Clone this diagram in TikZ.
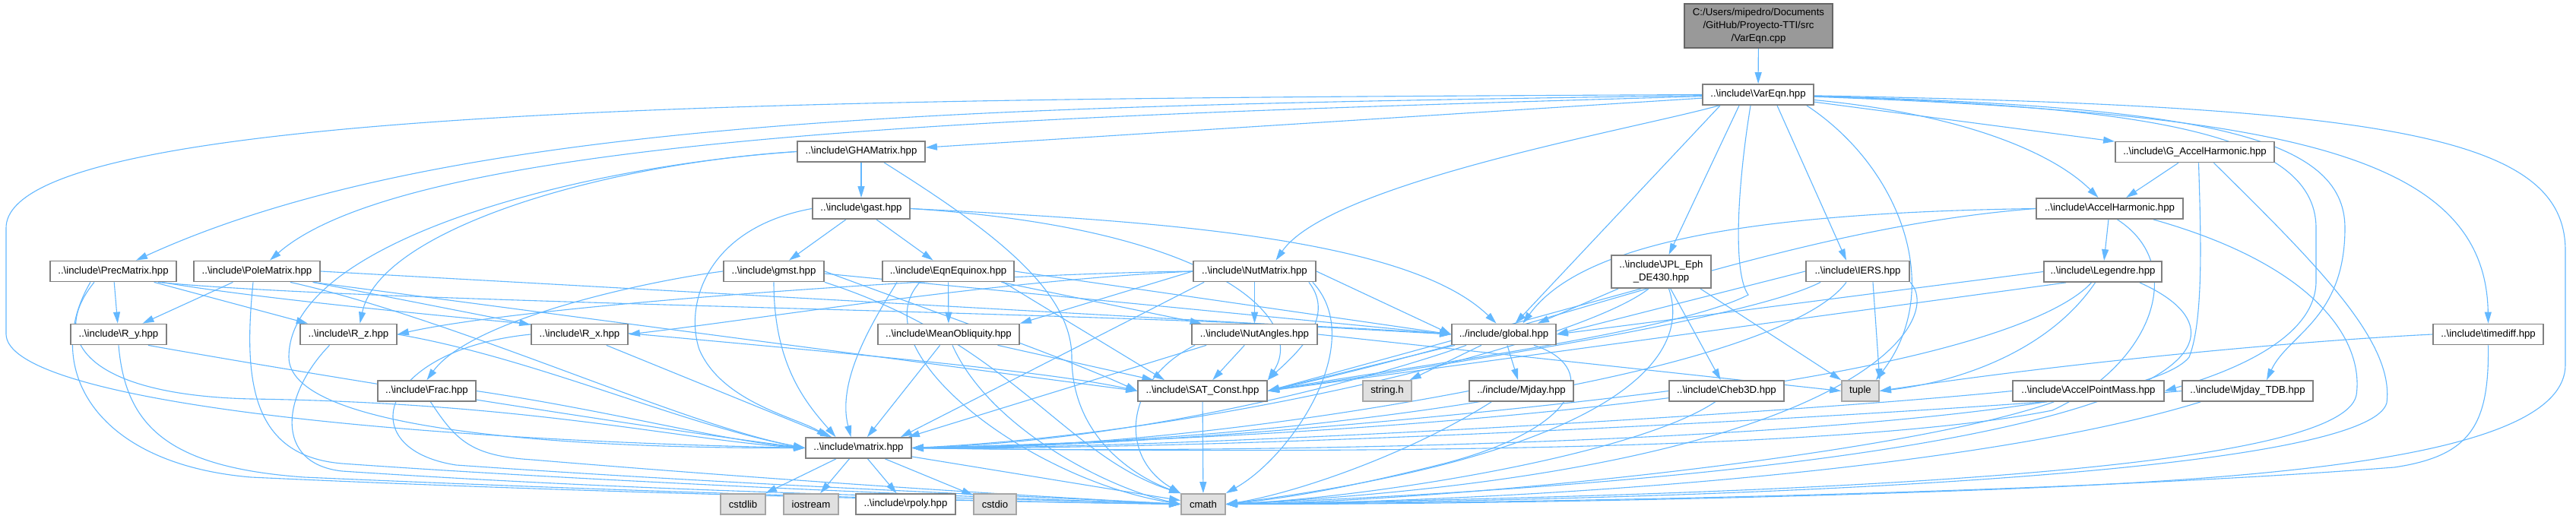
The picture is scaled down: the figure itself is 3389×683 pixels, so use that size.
\documentclass[tikz,border=0pt]{standalone}
\usepackage{fontspec}
\setmainfont{Liberation Sans}
\usetikzlibrary{arrows.meta,calc}
\definecolor{edgeblue}{HTML}{63B8FF}
\definecolor{boxline}{HTML}{808080}
\definecolor{sysfill}{HTML}{E0E0E0}
\definecolor{sysline}{HTML}{A6A6A6}
\definecolor{srcfill}{HTML}{999999}
\definecolor{srcline}{HTML}{666666}
\newcommand\bsl{\textbackslash}
\pgfdeclarelayer{bg}
\pgfsetlayers{bg,main}
\begin{document}
\begin{tikzpicture}[x=0.5pt,y=-0.5pt,
  hdr/.style={draw=boxline,line width=0.9pt,fill=white,inner sep=0pt,minimum height=13.5pt,
    font=\fontsize{6.6pt}{8.35pt}\selectfont,align=center},
  sys/.style={hdr,draw=sysline,fill=sysfill},
  src/.style={hdr,draw=srcline,fill=srcfill},
  e/.style={draw=edgeblue,line width=0.55pt,-{Triangle[length=7.5pt,width=4.5pt]}}]
\useasboundingbox (0,0) rectangle (3389,683);
% nodes
\node[src,minimum width=97.5pt,minimum height=29pt] (cpp) at (2313.5,34) {C:/Users/mipedro/Documents\\/GitHub/Proyecto-TTI/src\\/VarEqn.cpp};
\node[hdr,minimum width=73pt] (V) at (2313,124.5) {..\bsl include\bsl VarEqn.hpp};
\node[hdr,minimum width=84pt] (GHA) at (1133,199.5) {..\bsl include\bsl GHAMatrix.hpp};
\node[hdr,minimum width=104.5pt] (GAH) at (2887.5,200) {..\bsl include\bsl G\_AccelHarmonic.hpp};
\node[hdr,minimum width=64pt] (gast) at (1133,274.5) {..\bsl include\bsl gast.hpp};
\node[hdr,minimum width=96.5pt] (AH) at (2775.5,274.5) {..\bsl include\bsl AccelHarmonic.hpp};
\node[hdr,minimum width=83pt] (Prec) at (149,357) {..\bsl include\bsl PrecMatrix.hpp};
\node[hdr,minimum width=83pt] (Pole) at (338,357) {..\bsl include\bsl PoleMatrix.hpp};
\node[hdr,minimum width=66pt] (gmst) at (1018,357) {..\bsl include\bsl gmst.hpp};
\node[hdr,minimum width=86.5pt] (EqE) at (1247.5,357) {..\bsl include\bsl EqnEquinox.hpp};
\node[hdr,minimum width=80.5pt] (Nut) at (1650.5,357) {..\bsl include\bsl NutMatrix.hpp};
\node[hdr,minimum width=65.5pt,minimum height=21.5pt] (JPL) at (2185.5,357.5) {..\bsl include\bsl JPL\_Eph\\\_DE430.hpp};
\node[hdr,minimum width=68pt] (IERS) at (2444,357) {..\bsl include\bsl IERS.hpp};
\node[hdr,minimum width=77.5pt] (Leg) at (2766.5,357.5) {..\bsl include\bsl Legendre.hpp};
\node[hdr,minimum width=63pt] (Ry) at (156,440) {..\bsl include\bsl R\_y.hpp};
\node[hdr,minimum width=63.5pt] (Rz) at (458.5,440) {..\bsl include\bsl R\_z.hpp};
\node[hdr,minimum width=63.5pt] (Rx) at (762.5,440) {..\bsl include\bsl R\_x.hpp};
\node[hdr,minimum width=93pt] (MO) at (1248,440) {..\bsl include\bsl MeanObliquity.hpp};
\node[hdr,minimum width=82.5pt] (NA) at (1650.5,440) {..\bsl include\bsl NutAngles.hpp};
\node[hdr,minimum width=68.5pt] (glob) at (1978.5,440) {../include/global.hpp};
\node[hdr,minimum width=72.5pt] (tdiff) at (3273.5,440) {..\bsl include\bsl timediff.hpp};
\node[hdr,minimum width=64.5pt] (Frac) at (561.5,514.5) {..\bsl include\bsl Frac.hpp};
\node[hdr,minimum width=85pt] (SAT) at (1582,514.5) {..\bsl include\bsl SAT\_Const.hpp};
\node[sys,minimum width=32pt] (strh) at (1825,514.5) {string.h};
\node[hdr,minimum width=68.5pt] (Mjd) at (2001.5,514.5) {../include/Mjday.hpp};
\node[hdr,minimum width=75.5pt] (Cheb) at (2271.5,514.5) {..\bsl include\bsl Cheb3D.hpp};
\node[sys,minimum width=24.5pt] (tup) at (2447.5,514.5) {tuple};
\node[hdr,minimum width=99.5pt] (APM) at (2747.5,514.5) {..\bsl include\bsl AccelPointMass.hpp};
\node[hdr,minimum width=86pt] (MTDB) at (2957,514.5) {..\bsl include\bsl Mjday\_TDB.hpp};
\node[hdr,minimum width=69.5pt] (mat) at (1129.5,589.5) {..\bsl include\bsl matrix.hpp};
\node[sys,minimum width=29.5pt] (cstdlib) at (977.5,663.5) {cstdlib};
\node[sys,minimum width=36pt] (iostr) at (1067,663.5) {iostream};
\node[hdr,minimum width=65.5pt] (rpoly) at (1191.5,663.5) {..\bsl include\bsl rpoly.hpp};
\node[sys,minimum width=28pt] (cstdio) at (1309,663.5) {cstdio};
\node[sys,minimum width=29pt] (cmath) at (1583,663.5) {cmath};
% edges
\begin{pgfonlayer}{bg}
\fill[white] (0,0) rectangle (3389,683);
\draw[e] (cpp) -- (V);
% VarEqn.hpp
\draw[e] (V.west) .. controls (1200,130) and (8,130) .. (8,300) -- (8,440) .. controls (10,525) and (500,578) .. (mat.west);
\draw[e] (V) .. controls (1300,140) and (600,150) .. ($(Prec.north)+(30,0)$);
\draw[e] (V) .. controls (1400,152) and (550,172) .. ($(Pole.north)+(17,0)$);
\draw[e] (V) -- (GHA);
\draw[e] (V) .. controls (2150,170) and (1750,240) .. ($(Nut.north)+(28,0)$);
\draw[e] ($(V.south)+(-50,0)$) -- ($(glob.north)+(15,0)$);
\draw[e] ($(V.south)+(-25,0)$) -- ($(JPL.north)+(10,0)$);
\draw[e] ($(V.south)+(-10,0)$) .. controls (2285,250) and (2280,360) .. (2300,388) .. controls (2200,440) and (1800,490) .. (SAT.east);
\draw[e] ($(V.south)+(25,0)$) -- ($(IERS.north)+(-15,0)$);
\draw[e] ($(V.south east)+(-10,0)$) .. controls (2500,220) and (2560,380) .. ($(tup.north east)+(-5,0)$);
\draw[e] (V) -- (GAH);
\draw[e] (V) .. controls (2580,150) and (2700,200) .. ($(AH.north)+(-15,0)$);
\draw[e] (V) .. controls (2800,140) and (3047,170) .. (3047,300) -- (3047,370) .. controls (3047,440) and (2950,485) .. (APM.east);
\draw[e] (V) .. controls (2900,140) and (3085,180) .. (3085,300) .. controls (3085,420) and (3010,440) .. ($(MTDB.north)+(25,0)$);
\draw[e] (V) .. controls (3000,150) and (3270,200) .. (tdiff.north);
\draw[e] (V) .. controls (3150,140) and (3375,180) .. (3375,330) -- (3375,480) .. controls (3375,600) and (3000,630) .. (2600,645) .. controls (2200,660) and (1800,664) .. (cmath.east);
% GHAMatrix
\draw[e] (GHA) -- (gast);
\draw[e] (GHA.west) .. controls (800,215) and (500,300) .. ($(Rz.north)+(15,0)$);
\draw[e] (GHA.west) .. controls (750,220) and (380,320) .. (380,470) .. controls (380,560) and (700,590) .. (mat.west);
\draw[e] ($(GHA.south)+(30,0)$) .. controls (1300,300) and (1410,380) .. (1410,470) .. controls (1410,580) and (1500,630) .. (cmath.north west);
% gast
\draw[e] (gast) -- (gmst);
\draw[e] (gast) -- (EqE);
\draw[e] (gast.east) .. controls (1500,290) and (1850,310) .. ($(glob.north)+(-10,0)$);
\draw[e] (gast.east) .. controls (1600,300) and (1720,420) .. (SAT.north east);
\draw[e] (gast.west) .. controls (930,300) and (900,400) .. (920,460) .. controls (950,530) and (1050,550) .. ($(mat.north)+(-40,0)$);
% PrecMatrix
\draw[e] (Prec) -- (Ry);
\draw[e] (Prec) -- (Rz);
\draw[e] ($(Prec.south east)+(-20,0)$) .. controls (500,420) and (1300,470) .. (SAT.west);
\draw[e] ($(Prec.south east)+(-25,0)$) .. controls (500,400) and (1500,410) .. (glob.west);
\draw[e] ($(Prec.south)+(-25,0)$) .. controls (60,450) and (120,520) .. (330,525) .. controls (700,530) and (900,580) .. (mat.west);
\draw[e] ($(Prec.south)+(-30,0)$) .. controls (55,480) and (120,610) .. (330,628) .. controls (800,650) and (1300,660) .. (cmath.west);
% PoleMatrix
\draw[e] (Pole) -- (Ry);
\draw[e] (Pole) -- (Rx);
\draw[e] (Pole.east) -- (glob.west);
\draw[e] ($(Pole.south east)+(-10,0)$) -- (SAT.west);
\draw[e] ($(Pole.south east)+(-40,0)$) .. controls (600,420) and (900,560) .. (mat.west);
\draw[e] ($(Pole.south)+(-5,0)$) .. controls (320,500) and (330,600) .. (450,610) .. controls (800,635) and (1300,655) .. (cmath.west);
% R_y, R_z, R_x
\draw[e] ($(Ry.south east)+(-25,0)$) .. controls (450,500) and (900,570) .. (mat.west);
\draw[e] (Ry.south) .. controls (165,560) and (220,615) .. (400,628) .. controls (900,650) and (1300,660) .. (cmath.west);
\draw[e] (Rz.east) .. controls (700,470) and (900,560) .. (mat.west);
\draw[e] ($(Rz.south)+(-25,0)$) .. controls (370,520) and (360,610) .. (450,620) .. controls (900,650) and (1300,655) .. (cmath.west);
\draw[e] (Rx) -- (mat);
\draw[e] (Rx.west) .. controls (500,460) and (460,590) .. (600,612) .. controls (1000,640) and (1400,655) .. (cmath.west);
% gmst
\draw[e] (gmst.west) .. controls (850,370) and (620,420) .. (Frac.north);
\draw[e] (gmst.south) .. controls (1018,480) and (1060,530) .. ($(mat.north)+(-30,0)$);
\draw[e] (gmst.east) .. controls (1200,400) and (1400,470) .. (SAT.west);
\draw[e] ($(gmst.east)+(0,3)$) -- (glob.west);
\draw[e] (gmst.south east) .. controls (1330,450) and (1400,600) .. (cmath.north west);
% EqnEquinox
\draw[e] (EqE) -- (MO);
\draw[e] (EqE) -- (NA);
\draw[e] (EqE.east) -- (glob.west);
\draw[e] ($(EqE.south east)+(-15,0)$) -- ($(SAT.north)+(-50,0)$);
\draw[e] ($(EqE.south west)+(20,0)$) .. controls (1150,420) and (1100,500) .. ($(mat.north)+(-10,0)$);
\draw[e] ($(EqE.south west)+(50,0)$) .. controls (1130,460) and (1350,630) .. (cmath.west);
% MeanObliquity
\draw[e] (MO) -- (mat);
\draw[e] (MO) -- (SAT);
\draw[e] ($(MO.south)+(5,0)$) .. controls (1300,560) and (1450,640) .. (cmath.west);
% NutMatrix
\draw[e] (Nut) -- (NA);
\draw[e] (Nut.west) -- (MO.north east);
\draw[e] (Nut.west) .. controls (1300,370) and (1000,420) .. (Rx.east);
\draw[e] (Nut.west) .. controls (1300,360) and (700,400) .. (Rz.east);
\draw[e] ($(Nut.south west)+(15,0)$) -- ($(mat.north east)+(-15,0)$);
\draw[e] ($(Nut.south east)+(-10,0)$) .. controls (1760,420) and (1700,470) .. (SAT.north east);
\draw[e] (Nut.east) -- (glob.west);
\draw[e] ($(Nut.south east)+(-5,0)$) .. controls (1800,450) and (1700,600) .. (cmath.north east);
% NutAngles
\draw[e] (NA) -- (SAT);
\draw[e] ($(NA.south west)+(20,0)$) -- ($(mat.north east)+(-5,0)$);
\draw[e] ($(NA.south west)+(5,0)$) .. controls (1480,500) and (1470,600) .. (cmath.north west);
\draw[e] (NA.east) -- (tup.west);
% JPL
\draw[e] (JPL) -- (Cheb);
\draw[e] ($(JPL.south west)+(10,0)$) -- ($(glob.north east)+(-25,0)$);
\draw[e] ($(JPL.south west)+(40,0)$) -- (SAT.east);
\draw[e] ($(JPL.south west)+(50,0)$) .. controls (2080,450) and (1600,570) .. (mat.east);
\draw[e] ($(JPL.south)+(10,0)$) .. controls (2230,480) and (2100,600) .. (cmath.east);
\draw[e] ($(JPL.south east)+(-15,0)$) -- (tup.north west);
% IERS
\draw[e] (IERS.west) -- (glob.east);
\draw[e] ($(IERS.south west)+(20,0)$) .. controls (2300,420) and (1900,480) .. (SAT.east);
\draw[e] ($(IERS.south)+(-15,0)$) .. controls (2350,480) and (1800,580) .. (mat.east);
\draw[e] ($(IERS.south)+(20,0)$) -- (tup.north east);
\draw[e] (IERS.south east) .. controls (2560,420) and (2450,620) .. (cmath.east);
% Legendre
\draw[e] (Leg.west) -- (glob.east);
\draw[e] ($(Leg.south west)+(30,0)$) -- (SAT.east);
\draw[e] ($(Leg.south)+(-15,0)$) .. controls (2680,450) and (2300,560) .. (mat.east);
\draw[e] ($(Leg.south)+(-10,0)$) .. controls (2690,470) and (2560,505) .. (tup.east);
\draw[e] ($(Leg.south east)+(-30,0)$) .. controls (2990,450) and (2900,610) .. (cmath.east);
% AccelHarmonic
\draw[e] (AH) -- (Leg);
\draw[e] (AH.west) .. controls (2300,280) and (2080,320) .. ($(glob.north)+(25,0)$);
\draw[e] (AH.west) .. controls (2350,300) and (2050,430) .. (SAT.east);
\draw[e] ($(AH.south)+(10,0)$) .. controls (2880,350) and (2830,480) .. (2700,540) .. controls (2400,600) and (1600,595) .. (mat.east);
\draw[e] ($(AH.south east)+(-40,0)$) .. controls (3050,350) and (3110,450) .. (3100,520) .. controls (3080,620) and (2400,650) .. (cmath.east);
% G_AccelHarmonic
\draw[e] (GAH) -- (AH);
\draw[e] ($(GAH.south)+(5,0)$) .. controls (2895,300) and (2900,420) .. (2880,470) .. controls (2800,570) and (1800,600) .. (mat.east);
\draw[e] ($(GAH.south)+(25,0)$) .. controls (3050,350) and (3150,450) .. (3140,530) .. controls (3120,610) and (2500,655) .. (cmath.east);
% global
\draw[e] (glob) -- (strh);
\draw[e] (glob) -- (Mjd);
\draw[e] ($(glob.south west)+(5,0)$) -- (SAT.east);
\draw[e] ($(glob.south west)+(20,0)$) .. controls (1800,500) and (1500,580) .. (mat.east);
\draw[e] ($(glob.south east)+(-30,0)$) .. controls (2100,480) and (2090,560) .. (1900,610) .. controls (1780,640) and (1700,655) .. (cmath.east);
% leaves
\draw[e] (Mjd.west) .. controls (1800,540) and (1500,590) .. (mat.east);
\draw[e] ($(Mjd.south west)+(30,0)$) .. controls (1850,600) and (1700,650) .. (cmath.east);
\draw[e] (Cheb.west) .. controls (2000,540) and (1500,590) .. (mat.east);
\draw[e] ($(Cheb.south)+(-15,0)$) .. controls (2150,600) and (1800,655) .. (cmath.east);
\draw[e] (APM.west) .. controls (2400,540) and (1600,590) .. (mat.east);
\draw[e] ($(APM.south west)+(55,0)$) .. controls (2500,600) and (1900,660) .. (cmath.east);
\draw[e] (MTDB.west) .. controls (2600,540) and (1700,592) .. (mat.east);
\draw[e] ($(MTDB.south west)+(25,0)$) .. controls (2600,620) and (2000,660) .. (cmath.east);
\draw[e] (tdiff.west) .. controls (3000,450) and (2700,480) .. (tup.east);
\draw[e] (tdiff.south) .. controls (3275,560) and (3250,600) .. (3150,615) .. controls (2700,650) and (2000,662) .. (cmath.east);
\draw[e] (Frac.east) .. controls (800,540) and (950,580) .. (mat.west);
\draw[e] ($(Frac.south)+(5,0)$) .. controls (600,580) and (620,600) .. (700,605) .. controls (1000,630) and (1300,650) .. (cmath.west);
\draw[e] (SAT) -- (cmath);
% matrix
\draw[e] (mat) -- (cstdlib);
\draw[e] (mat) -- (iostr);
\draw[e] (mat) -- (rpoly);
\draw[e] (mat) -- (cstdio);
\draw[e] (mat) -- (cmath);
\end{pgfonlayer}
\end{tikzpicture}
\end{document}
